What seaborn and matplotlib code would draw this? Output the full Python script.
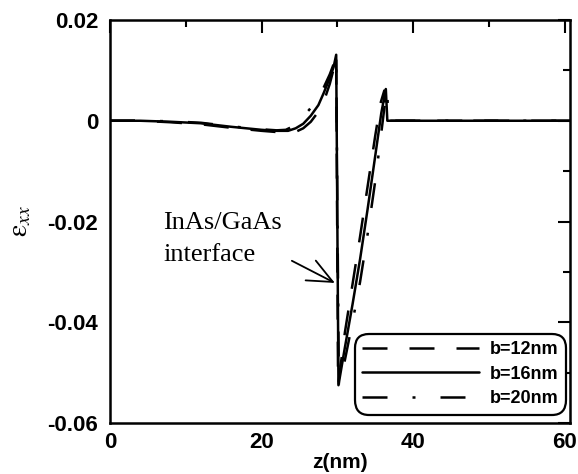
import matplotlib
matplotlib.use("Agg")
import matplotlib.pyplot as plt
import numpy as np
import pandas as pd
import seaborn as sns
from matplotlib.ticker import FixedLocator, FixedFormatter, MultipleLocator

# Strain profile eps_xx along the growth axis z for three dot base sizes b
z_b12 = [0, 4, 8, 12, 16, 20, 22.5, 24.5, 25.5, 26.5, 27.5, 28.3, 29.0, 29.5,
         29.85, 30.1, 31.0, 32.0, 33.0, 34.0, 35.0, 35.7, 36.2, 36.5, 40, 50, 60.7]
eps_b12 = [0, 0, -0.0003, -0.0007, -0.0014, -0.0020, -0.0023, -0.0022, -0.0015,
           -0.0002, 0.0018, 0.0042, 0.0073, 0.0102, 0.0131, -0.0525, -0.0420,
           -0.0325, -0.0230, -0.0130, -0.0030, 0.0035, 0.0060, 0, 0, 0, 0]

z_b16 = [0, 4, 8, 12, 16, 20, 22, 23.5, 24.5, 25.5, 26.5, 27.5, 28.2, 29.0, 29.5,
         29.85, 30.15, 31.0, 32.0, 33.0, 34.0, 35.0, 35.8, 36.4, 36.6, 40, 50, 60.7]
eps_b16 = [0, 0, -0.0002, -0.0005, -0.0012, -0.0018, -0.0020, -0.0020, -0.0015,
           -0.0006, 0.0010, 0.0031, 0.0055, 0.0085, 0.0106, 0.0131, -0.0525,
           -0.0450, -0.0365, -0.0275, -0.0175, -0.0070, 0.0015, 0.0063, 0, 0, 0, 0]

z_b20 = [0, 4, 8, 12, 16, 20, 22, 23.2, 24.3, 25.3, 26.3, 27.3, 28.2, 29.0, 29.5,
         29.85, 30.2, 31.0, 32.0, 33.0, 34.0, 35.0, 35.6, 36.2, 36.6, 36.7, 40, 50, 60.7]
eps_b20 = [0, 0, -0.0001, -0.0004, -0.0011, -0.0017, -0.0019, -0.0018, -0.0010,
           0.0005, 0.0022, 0.0042, 0.0066, 0.0092, 0.0112, 0.0131, -0.0525,
           -0.0475, -0.0400, -0.0320, -0.0225, -0.0120, -0.0049, 0.0025, 0.0060,
           0, 0, 0, 0]

series_labels = ["b=12nm", "b=16nm", "b=20nm"]

x_major_ticks = [0, 20, 40, 60]
x_tick_labels = ["0", "20", "40", "60"]
y_major_ticks = [-0.06, -0.04, -0.02, 0, 0.02]
y_tick_labels = ["-0.06", "-0.04", "-0.02", "0", "0.02"]

sns.set_theme(style="white")
plt.rcParams["font.family"] = ["Liberation Sans", "DejaVu Sans"]
plt.rcParams["mathtext.fontset"] = "stix"
for key in ["text.color", "axes.labelcolor", "xtick.color", "ytick.color",
            "axes.edgecolor"]:
    plt.rcParams[key] = "black"

fig = plt.figure(figsize=(5.78, 4.74), dpi=100)
ax = fig.add_axes([0.1903, 0.1076, 0.7958, 0.8502])

dash_patterns = [(0, (10, 8.8)), "solid", (0, (10, 10, 1.2, 10))]
data_sets = [(z_b12, eps_b12), (z_b16, eps_b16), (z_b20, eps_b20)]

for (zz, ee), lab, ls in zip(data_sets, series_labels, dash_patterns):
    df = pd.DataFrame({"z": zz, "eps": ee})
    sns.lineplot(data=df, x="z", y="eps", ax=ax, color="black", lw=1.8,
                 linestyle=ls, sort=False, estimator=None, label=lab)

ax.set_xlim(0, 60.7)
ax.set_ylim(-0.06, 0.02)

ax.xaxis.set_major_locator(FixedLocator(x_major_ticks))
ax.xaxis.set_major_formatter(FixedFormatter(x_tick_labels))
ax.xaxis.set_minor_locator(MultipleLocator(10))
ax.yaxis.set_major_locator(FixedLocator(y_major_ticks))
ax.yaxis.set_major_formatter(FixedFormatter(y_tick_labels))
ax.yaxis.set_minor_locator(MultipleLocator(0.01))

ax.tick_params(which="both", direction="in", top=True, right=True,
               color="black", width=1.5, labelcolor="black")
ax.tick_params(which="major", length=9)
ax.tick_params(which="minor", length=5)
ax.tick_params(axis="x", which="major", pad=6.5, labelsize=16)
ax.tick_params(axis="y", which="major", pad=8.5, labelsize=16)
for lbl in ax.get_xticklabels() + ax.get_yticklabels():
    lbl.set_fontweight("bold")

for sp in ax.spines.values():
    sp.set_linewidth(1.8)
    sp.set_color("black")

ax.set_xlabel("z(nm)", fontsize=15, fontweight="bold", labelpad=0)
ax.set_ylabel(r"$\mathrm{ε}_{xx}$", fontsize=20, labelpad=10)

ax.text(7.0, -0.0182, "InAs/GaAs\ninterface", fontsize=19,
        family="Liberation Serif", va="top", ha="left", linespacing=1.55)
ax.annotate("", xy=(29.68, -0.0322), xytext=(24.0, -0.0278),
            arrowprops=dict(arrowstyle="->,head_length=0.9,head_width=0.4",
                            lw=1.3, color="black", mutation_scale=20,
                            shrinkA=0, shrinkB=0))

handles, labels = ax.get_legend_handles_labels()
leg = ax.legend(handles, labels, loc="lower right",
                bbox_to_anchor=(0.984, 0.03), prop={"size": 13, "weight": "bold"},
                handlelength=6.5, handletextpad=0.6, labelspacing=0.42,
                borderpad=0.2, borderaxespad=0, frameon=True, fancybox=True,
                framealpha=1, edgecolor="black")
frame = leg.get_frame()
frame.set_linewidth(1.6)
frame.set_boxstyle("round,pad=0.2,rounding_size=0.8")

fig.savefig("out.png", dpi=100, facecolor="white")
